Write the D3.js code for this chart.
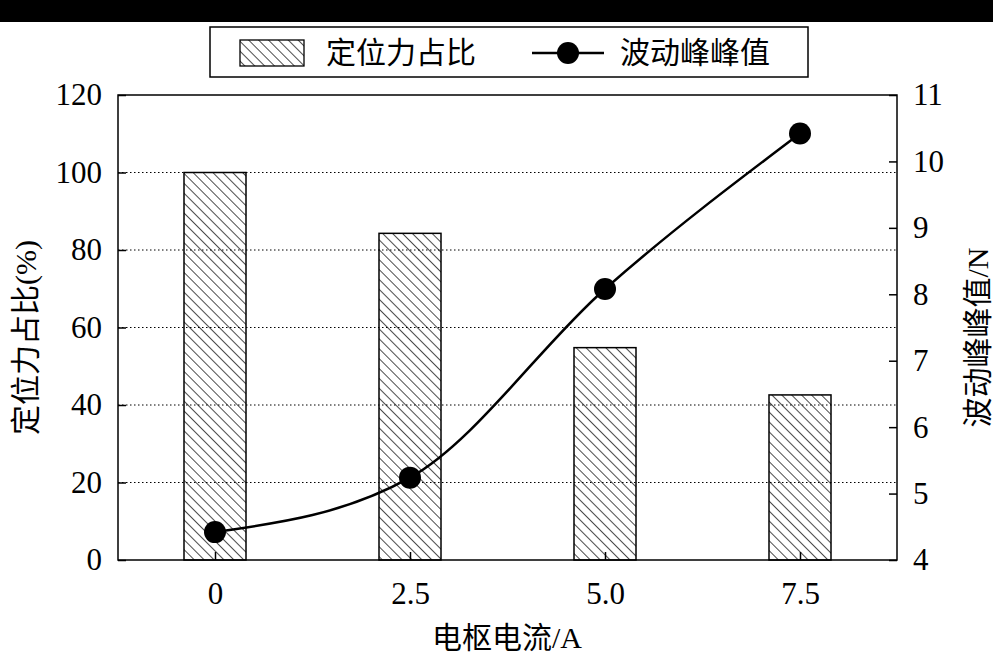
<!DOCTYPE html>
<html><head><meta charset="utf-8">
<script src="https://cdn.jsdelivr.net/npm/d3@7"></script>
<style>body{margin:0;background:#fff}text{font-family:"Liberation Serif","Noto Sans CJK SC",serif;fill:#000}</style>
</head><body>
<svg id="c" width="993" height="655"></svg>
<script>
// data
var currents = ["0", "2.5", "5.0", "7.5"];
var cogShare = [100, 84.3, 54.8, 42.6];      // 定位力占比 (%)
var ripplePP = [4.42, 5.24, 8.08, 10.42];    // 波动峰峰值 (N)
var leftTicks = [0, 20, 40, 60, 80, 100, 120];
var rightTicks = [4, 5, 6, 7, 8, 9, 10, 11];

var svg = d3.select('#c');
var m = {l: 118, r: 897, t: 95, b: 560};
var cjk = '"Noto Sans CJK SC",sans-serif';
var barW = 62;

svg.append('rect').attr('x', 0).attr('y', 0).attr('width', 993).attr('height', 22).attr('fill', '#000');

var defs = svg.append('defs');
var pat = defs.append('pattern').attr('id', 'hatch').attr('patternUnits', 'userSpaceOnUse')
    .attr('width', 7).attr('height', 7).attr('patternTransform', 'rotate(-45)');
pat.append('line').attr('x1', 0).attr('y1', 0).attr('x2', 0).attr('y2', 7)
    .attr('stroke', '#000').attr('stroke-width', 1.4);

var x = d3.scalePoint().domain(currents).range([215, 800]);
var yL = d3.scaleLinear().domain([0, 120]).range([m.b, m.t]);
var yR = d3.scaleLinear().domain([4, 11]).range([m.b, m.t]);

// dotted grid
svg.selectAll('.grid').data(leftTicks.slice(1, -1)).enter().append('line')
    .attr('x1', m.l).attr('x2', m.r).attr('y1', d => yL(d)).attr('y2', d => yL(d))
    .attr('stroke', '#000').attr('stroke-width', 1).attr('stroke-dasharray', '1.5,2.5');

// bars
svg.selectAll('.bar').data(cogShare).enter().append('rect')
    .attr('x', (d, i) => x(currents[i]) - barW / 2).attr('width', barW)
    .attr('y', d => yL(d)).attr('height', d => m.b - yL(d))
    .attr('fill', 'url(#hatch)').attr('stroke', '#000').attr('stroke-width', 1.5);

// line
var pts = ripplePP.map((v, i) => [x(currents[i]), yR(v)]);
svg.append('path').attr('d', d3.line().curve(d3.curveMonotoneX)(pts))
    .attr('fill', 'none').attr('stroke', '#000').attr('stroke-width', 2.5);
svg.selectAll('.pt').data(pts).enter().append('circle')
    .attr('cx', d => d[0]).attr('cy', d => d[1]).attr('r', 11).attr('fill', '#000');

// frame
svg.append('rect').attr('x', m.l).attr('y', m.t).attr('width', m.r - m.l).attr('height', m.b - m.t)
    .attr('fill', 'none').attr('stroke', '#000').attr('stroke-width', 1.5);

// axes
var axL = svg.append('g').attr('transform', 'translate(' + m.l + ',0)')
    .call(d3.axisLeft(yL).tickValues(leftTicks).tickSize(-8).tickPadding(16));
var axR = svg.append('g').attr('transform', 'translate(' + m.r + ',0)')
    .call(d3.axisRight(yR).tickValues(rightTicks).tickFormat(d3.format('d')).tickSize(-8).tickPadding(16));
var axB = svg.append('g').attr('transform', 'translate(0,' + m.b + ')')
    .call(d3.axisBottom(x).tickSize(-8).tickPadding(16));
[axL, axR, axB].forEach(function (a) {
    a.select('.domain').remove();
    a.selectAll('line').attr('stroke-width', 1.5);
    a.selectAll('text').attr('font-size', 31).attr('font-family', '"Liberation Serif",serif');
});
axB.selectAll('text').attr('dy', '0.9em');

// axis titles
svg.append('text').attr('x', 507).attr('y', 648).attr('text-anchor', 'middle')
    .attr('font-size', 30).attr('font-family', cjk).text('电枢电流/A');
svg.append('text').attr('transform', 'translate(36,' + ((m.t + m.b) / 2 + 10) + ') rotate(-90)')
    .attr('text-anchor', 'middle').attr('font-size', 30).attr('font-family', cjk).text('定位力占比(%)');
svg.append('text').attr('transform', 'translate(988,' + ((m.t + m.b) / 2 + 10) + ') rotate(-90)')
    .attr('text-anchor', 'middle').attr('font-size', 30).attr('font-family', cjk).text('波动峰峰值/N');

// legend
var lg = svg.append('g');
lg.append('rect').attr('x', 210).attr('y', 27).attr('width', 598).attr('height', 50)
    .attr('fill', '#fff').attr('stroke', '#000').attr('stroke-width', 1.5);
lg.append('rect').attr('x', 240).attr('y', 40).attr('width', 64).attr('height', 26)
    .attr('fill', 'url(#hatch)').attr('stroke', '#000').attr('stroke-width', 1.3);
lg.append('text').attr('x', 326).attr('y', 63).attr('font-size', 30).attr('font-family', cjk).text('定位力占比');
lg.append('line').attr('x1', 532).attr('x2', 604).attr('y1', 53).attr('y2', 53).attr('stroke', '#000').attr('stroke-width', 2.5);
lg.append('circle').attr('cx', 568).attr('cy', 53).attr('r', 11).attr('fill', '#000');
lg.append('text').attr('x', 620).attr('y', 63).attr('font-size', 30).attr('font-family', cjk).text('波动峰峰值');
</script>
</body></html>
